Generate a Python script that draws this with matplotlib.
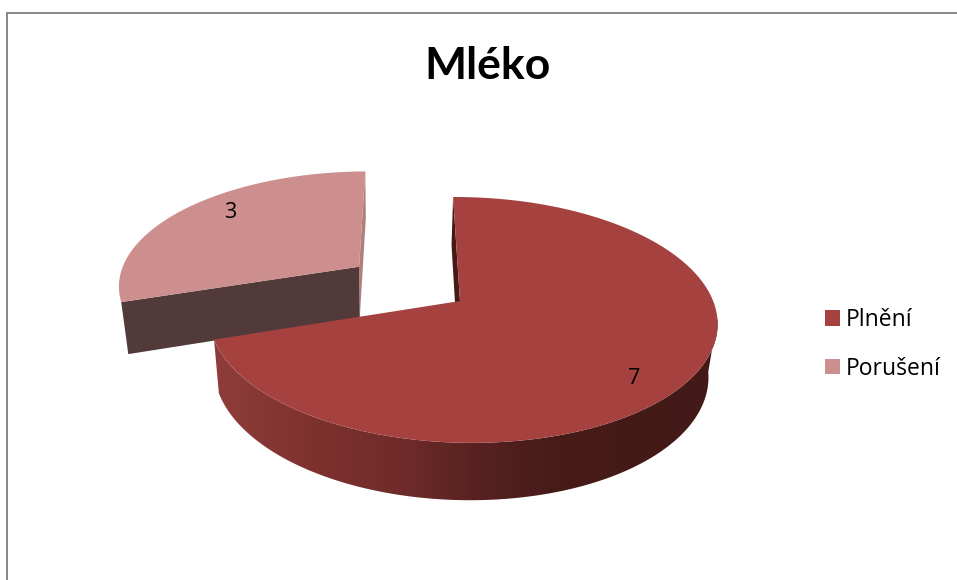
import numpy as np
import matplotlib
matplotlib.use("Agg")
import matplotlib.pyplot as plt
from matplotlib.patches import Patch, Polygon
from matplotlib.colors import to_rgb

plt.rcParams['font.family'] = ['Open Sans', 'DejaVu Sans']

title = "Mléko"
categories = ["Plnění", "Porušení"]
values = [7, 3]
colors = ["#a54240", "#cd8f8d"]
exploded = [0.0, 0.51]

# perspective of the pie, unit disk to pixels
APEX = (460, 301)
B, C, K, M, A = 251, -8, 0.154, -0.0085, 120
P, Q, R = -2, 0.0275, 54


def project(X, Y, z=0):
    w = 1 + K * Y + M * X + Q * z
    return APEX[0] + (B * X + C * Y + P * z) / w, APEX[1] + (-A * Y + R * z) / w


def rim(theta, offset=(0, 0)):
    return offset[0] + np.sin(theta), offset[1] + np.cos(theta)


def side_colors(x):
    # side of the pie darkens from left to right
    stops = [212, 300, 400, 480, 560, 717]
    cols = np.array([to_rgb(c) for c in ["#8f3d3b", "#80332f", "#6f2b29", "#562120", "#461b18", "#431a17"]])
    return np.column_stack([np.interp(x, stops, cols[:, i]) for i in range(3)])


fig = plt.figure(figsize=(9.57, 5.8), dpi=100)
ax = fig.add_axes([0, 0, 1, 1])
ax.axis("off")

# chart frame
ax.plot([7, 7, 957], [580, 13, 13], color="#868686", lw=1.4, solid_joinstyle="miter")

fractions = np.cumsum([0] + values) / sum(values) * 2 * np.pi


def top_face(start, end, offset):
    th = np.linspace(start, end, 200)
    X, Y = rim(th, offset)
    X = np.append(X, offset[0])
    Y = np.append(Y, offset[1])
    return np.column_stack(project(X, Y))


def cut_wall(theta, offset):
    X, Y = rim(theta, offset)
    return [project(X, Y), project(X, Y, 1), project(offset[0], offset[1], 1), project(offset[0], offset[1])]


# second slice is pulled out, it goes first so the big one covers it
start, end = fractions[1], fractions[2]
mid = (start + end) / 2
off = (exploded[1] * np.sin(mid), exploded[1] * np.cos(mid))
ax.add_patch(Polygon(cut_wall(end, off), fc="#b07f7d", ec="none"))
ax.add_patch(Polygon(cut_wall(start, off), fc="#533a3a", ec="none"))
ax.add_patch(Polygon(top_face(start, end, off), fc=colors[1], ec="none"))

# outer side of the big slice: a horizontal gradient clipped to the rim band,
# starting at the rightmost point of the rim
start, end = fractions[0], fractions[1]
th = np.linspace(np.radians(98), end, 240)
X, Y = rim(th)
band = np.vstack([np.column_stack(project(X, Y)), np.column_stack(project(X, Y, 1))[::-1]])
clip = Polygon(band, transform=ax.transData, fc="none", ec="none")
ax.add_patch(clip)
px = np.arange(200, 730)
grad = ax.imshow(side_colors(px)[np.newaxis, :, :], extent=(200, 730, 520, 300), aspect="auto", zorder=1)
grad.set_clip_path(clip)

ax.add_patch(Polygon(cut_wall(start, (0, 0)), fc="#451a17", ec="none"))
ax.add_patch(Polygon(top_face(start, end, (0, 0)), fc=colors[0], ec="none"))

ax.set_xlim(0, 957)
ax.set_ylim(580, 0)

ax.text(634, 378, str(values[0]), fontsize=15.5, color="black", ha="center", va="center")
ax.text(230, 213, str(values[1]), fontsize=15.5, color="black", ha="center", va="center")

ax.text(488, 66, title, fontsize=32, fontweight="bold", family="Lato", color="black", ha="center", va="center")

handles = [Patch(fc=c, ec="none") for c in colors]
ax.legend(handles, categories, loc="center left", bbox_to_anchor=(825, 344.5), bbox_transform=ax.transData,
          frameon=False, fontsize=16.5, handlelength=0.65, handleheight=0.65, handletextpad=0.25,
          labelspacing=1.08, borderpad=0, borderaxespad=0, labelcolor="black")

fig.savefig("out.png", dpi=100)
